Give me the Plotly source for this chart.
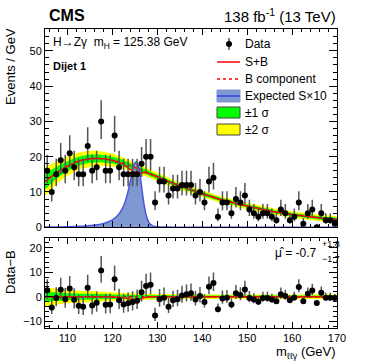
import numpy as np
import plotly.graph_objects as go

# 1 GeV bins, 105-170 GeV
bin_mass = np.arange(105.5, 170, 1.0)
data = [16, 10, 15, 19, 16, 21, 17, 15, 15, 23, 16, 17, 30, 16, 16, 26, 17, 15, 15, 15,
        15, 18, 20, 20, 7, 13, 13, 9, 11, 11, 12, 12, 12, 9, 10, 7, 13, 14, 3, 7,
        7, 4, 8, 7, 9, 5, 4, 3, 4, 4, 3, 2, 5, 4, 2, 3, 7, 1, 4, 5,
        0, 4, 2, 2, 1]
resid = [2.6, -4.4, -0.5, 2.9, -1.0, 3.4, -1.2, -3.7, -4.1, 3.7, -3.6, -2.5, 10.7, -3.3, -3.2, 7.1,
         -1.4, -3.2, -2.7, -2.2, -1.6, 1.8, 4.4, 4.9, -7.7, -1.0, -0.4, -4.1, -1.4, -1.0, 0.5, 1.0,
         1.4, -1.1, 0.3, -2.2, 4.1, 5.6, -5.1, -0.7, -0.4, -3.2, 1.4, 0.7, 3.0, -0.5, -1.1, -2.1,
         -0.5, -0.5, -1.1, -1.9, 1.0, 0.3, -1.4, -0.3, 4.0, -1.9, 1.2, 2.5, -2.6, 1.6, -0.4, -0.4, -0.5]

# fit curves sampled at 105, 106, ..., 170 GeV
curve_mass = np.arange(105, 171, 1)
bkg = [12.9, 13.9, 14.9, 15.8, 16.6, 17.3, 17.9, 18.5, 18.9, 19.2, 19.4, 19.5, 19.5, 19.4, 19.2, 19.0,
       18.7, 18.4, 17.9, 17.4, 16.9, 16.4, 15.9, 15.4, 14.8, 14.3, 13.8, 13.2, 12.7, 12.2, 11.7, 11.3,
       10.8, 10.4, 9.9, 9.5, 9.1, 8.7, 8.3, 7.9, 7.6, 7.3, 6.9, 6.6, 6.3, 6.0, 5.7, 5.5,
       5.2, 4.9, 4.7, 4.4, 4.2, 4.0, 3.8, 3.6, 3.4, 3.3, 3.1, 3.0, 2.8, 2.7, 2.5, 2.4, 2.3, 2.2]
sb_minus_b = [0, 0, 0, 0, 0, 0, 0, 0, 0, 0, 0, 0, 0, 0, 0, -0.1,
              -0.2, -0.3, -0.6, -1.0, -1.3, -1.0, -0.4, -0.1, 0, 0, 0, 0, 0, 0, 0, 0,
              0, 0, 0, 0, 0, 0, 0, 0, 0, 0, 0, 0, 0, 0, 0, 0,
              0, 0, 0, 0, 0, 0, 0, 0, 0, 0, 0, 0, 0, 0, 0, 0, 0, 0]
err1 = [2.2, 2.0, 1.8, 1.65, 1.5, 1.4, 1.35, 1.3, 1.25, 1.2, 1.2, 1.15, 1.1, 1.05, 1.0, 0.95,
        0.9, 0.85, 0.8, 0.75, 0.7, 0.7, 0.65, 0.65, 0.6, 0.6, 0.55, 0.55, 0.55, 0.5, 0.5, 0.5,
        0.5, 0.5, 0.5, 0.5, 0.5, 0.5, 0.48, 0.48, 0.47, 0.47, 0.46, 0.46, 0.45, 0.45, 0.45, 0.45,
        0.45, 0.45, 0.45, 0.45, 0.45, 0.45, 0.45, 0.45, 0.46, 0.46, 0.47, 0.47, 0.48, 0.48, 0.49, 0.49, 0.5, 0.5]
err2 = [4.0, 3.7, 3.4, 3.1, 2.9, 2.7, 2.6, 2.5, 2.4, 2.35, 2.3, 2.2, 2.1, 2.0, 1.9, 1.8,
        1.7, 1.6, 1.5, 1.45, 1.4, 1.35, 1.3, 1.25, 1.2, 1.15, 1.1, 1.1, 1.05, 1.0, 1.0, 1.0,
        0.98, 0.97, 0.96, 0.95, 0.94, 0.93, 0.92, 0.91, 0.9, 0.9, 0.9, 0.9, 0.9, 0.9, 0.9, 0.9,
        0.9, 0.9, 0.9, 0.9, 0.9, 0.9, 0.9, 0.9, 0.91, 0.92, 0.93, 0.94, 0.95, 0.96, 0.97, 0.98, 0.99, 1.0]

# expected signal x10
sig_mass = [105, 110, 113, 115, 117, 118, 119, 120, 121, 121.5, 122, 122.5, 123, 123.5, 124, 124.5,
            125, 125.4, 125.8, 126.2, 126.6, 127, 127.5, 128, 128.5, 129, 130, 132, 135, 170]
sig_x10 = [0.05, 0.15, 0.3, 0.5, 0.8, 1.1, 1.5, 2.1, 3.1, 3.8, 4.8, 6.0, 7.8, 10.2, 13.2, 16.2,
           18.2, 18.5, 17.2, 14.5, 10.5, 6.8, 3.5, 1.7, 0.8, 0.4, 0.15, 0.05, 0.02, 0.0]

mu_text = "-0.7"
mu_up, mu_dn = "+1.8", "\u22121.7"

FONT = "Liberation Sans"
RED, GREEN, YELLOW = "#ff0000", "#00ff00", "#ffff00"
SIGFILL, SIGLINE = "#7f98d2", "#4b55dd"

bkg = np.array(bkg)
sb = bkg + np.array(sb_minus_b)
e1, e2 = np.array(err1), np.array(err2)
n = np.array(data, dtype=float)
err_hi = 0.5 + np.sqrt(n + 0.25)
err_lo = np.sqrt(n + 0.25) - 0.5

fig = go.Figure()


def band(center, width, color, xa, ya):
    fig.add_trace(go.Scatter(x=curve_mass, y=center - width, mode="lines", line=dict(width=0, shape="spline"),
                             xaxis=xa, yaxis=ya, hoverinfo="skip"))
    fig.add_trace(go.Scatter(x=curve_mass, y=center + width, mode="lines", line=dict(width=0, shape="spline"),
                             fill="tonexty", fillcolor=color, xaxis=xa, yaxis=ya, hoverinfo="skip"))


# upper panel
band(bkg, e2, YELLOW, "x", "y")
band(bkg, e1, GREEN, "x", "y")
fig.add_trace(go.Scatter(x=sig_mass, y=sig_x10, mode="lines", fill="tozeroy", fillcolor=SIGFILL,
                         line=dict(color=SIGLINE, width=1.5, shape="spline"), xaxis="x", yaxis="y"))
fig.add_trace(go.Scatter(x=curve_mass, y=bkg, mode="lines", line=dict(color=RED, width=1.5, dash="dot", shape="spline"),
                         xaxis="x", yaxis="y"))
fig.add_trace(go.Scatter(x=curve_mass, y=sb, mode="lines", line=dict(color=RED, width=1.5, shape="spline"),
                         xaxis="x", yaxis="y"))
fig.add_trace(go.Scatter(x=bin_mass, y=data, mode="markers", marker=dict(color="black", size=6),
                         error_y=dict(type="data", symmetric=False, array=err_hi, arrayminus=err_lo,
                                      color="#555555", thickness=1.5, width=0),
                         xaxis="x", yaxis="y"))

# lower panel
zero = np.zeros(len(curve_mass))
band(zero, e2, YELLOW, "x2", "y2")
band(zero, e1, GREEN, "x2", "y2")
fig.add_trace(go.Scatter(x=curve_mass, y=zero, mode="lines", line=dict(color=RED, width=1.5, dash="dot"),
                         xaxis="x2", yaxis="y2"))
fig.add_trace(go.Scatter(x=curve_mass, y=sb_minus_b, mode="lines", line=dict(color=RED, width=1.5, shape="spline"),
                         xaxis="x2", yaxis="y2"))
fig.add_trace(go.Scatter(x=bin_mass, y=resid, mode="markers", marker=dict(color="black", size=6),
                         error_y=dict(type="data", symmetric=False, array=err_hi, arrayminus=err_lo,
                                      color="#555555", thickness=1.5, width=0),
                         xaxis="x2", yaxis="y2"))

L, R, T, B = 45, 337, 29, 328


def px(x):
    return (x - L) / (R - L)


def py(y):
    return (B - y) / (B - T)


axis_common = dict(showline=True, linecolor="black", linewidth=1, mirror="allticks", ticks="inside",
                   showgrid=False, zeroline=False, tickcolor="black",
                   tickfont=dict(family=FONT, size=11, color="black"))
fig.update_layout(
    width=374, height=361, showlegend=False,
    margin=dict(l=L, r=374 - R, t=T, b=361 - B),
    paper_bgcolor="white", plot_bgcolor="white",
    font=dict(family=FONT, color="black"),
    xaxis=dict(axis_common, domain=[0, 1], range=[105, 170], anchor="y", showticklabels=False,
               dtick=10, ticklen=6, minor=dict(dtick=2, ticklen=3, ticks="inside", tickcolor="black")),
    yaxis=dict(axis_common, domain=[0.337, 1], range=[0, 56.2], anchor="x",
               dtick=10, ticklen=8, minor=dict(dtick=2, ticklen=4, ticks="inside", tickcolor="black")),
    xaxis2=dict(axis_common, domain=[0, 1], range=[105, 170], anchor="y2",
                dtick=10, ticklen=6, minor=dict(dtick=2, ticklen=3, ticks="inside", tickcolor="black")),
    yaxis2=dict(axis_common, domain=[0, 0.300], range=[-12.8, 23.9], anchor="x2",
                dtick=10, ticklen=8, minor=dict(dtick=2, ticklen=4, ticks="inside", tickcolor="black")),
)

ann = []


def text(x, y, s, size=12, anchor="left", **kw):
    ann.append(dict(x=px(x), y=py(y), xref="paper", yref="paper", text=s, showarrow=False,
                    xanchor=anchor, yanchor="middle", font=dict(family=FONT, size=size, color="black"), **kw))


text(47, 15, "<b>CMS</b>", 16)
text(338, 15, "138 fb<sup>-1</sup> (13 TeV)", 15, "right")
text(10, 67, "Events / GeV", 13, "center", textangle=-90)
text(10, 272, "Data\u2212B", 13, "center", textangle=-90)
text(338, 352, "m<sub>\u2113\u2113\u03b3</sub> (GeV)", 13, "right")
text(51, 43, "H\u2192Z\u03b3  m<sub>H</sub> = 125.38 GeV", 12)
text(51, 66, "<b>Dijet 1</b>", 11)
text(319, 253, "\u03bc\u0302 = " + mu_text, 12, "right")
text(320, 244, mu_up, 9)
text(320, 259, mu_dn, 9)

legend_items = ["Data", "S+B", "B component", "Expected S\u00d710", "\u00b11 \u03c3", "\u00b12 \u03c3"]
leg_y = [44, 62, 79, 96, 113, 130]
for lab, yy in zip(legend_items, leg_y):
    text(243, yy, lab, 12)

shapes = []


def pline(x0, y0, x1, y1, color, width=1.5, dash="solid"):
    shapes.append(dict(type="line", xref="paper", yref="paper", x0=px(x0), y0=py(y0), x1=px(x1), y1=py(y1),
                       line=dict(color=color, width=width, dash=dash)))


def prect(x0, y0, x1, y1, fill, border):
    shapes.append(dict(type="rect", xref="paper", yref="paper", x0=px(x0), y0=py(y0), x1=px(x1), y1=py(y1),
                       fillcolor=fill, line=dict(color=border, width=1)))


pline(229, 38, 229, 50, "#555555")
shapes.append(dict(type="circle", xref="paper", yref="paper", x0=px(226), y0=py(41), x1=px(232), y1=py(47),
                   fillcolor="black", line=dict(color="black", width=0)))
pline(217, 62, 240, 62, RED)
pline(217, 79, 240, 79, RED, dash="dot")
prect(217, 90, 240, 102, SIGFILL, SIGFILL)
pline(217, 96, 240, 96, SIGLINE, 2)
prect(217, 107, 240, 118, GREEN, "#444444")
prect(217, 124, 240, 135, YELLOW, "#444444")

fig.update_layout(annotations=ann, shapes=shapes)
# page body has a default 8px margin; drop it so the figure sits at the window's corner
fig.write_html("out.html", config={"displayModeBar": False},
               post_script="document.body.style.margin='0';")
